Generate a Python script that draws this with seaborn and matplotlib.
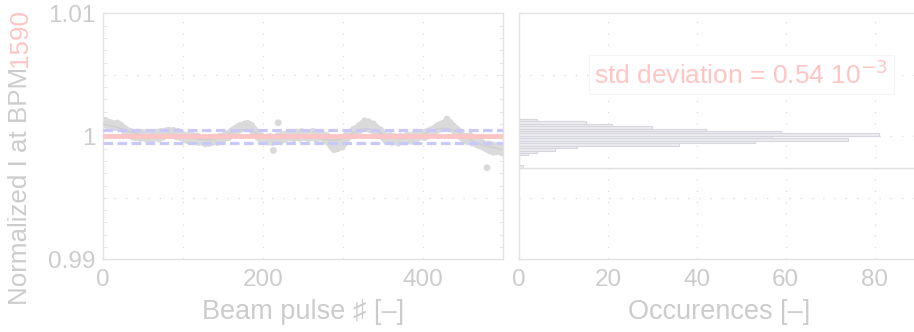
"""
ビームパルスごとの規格化電流 (BPM1590) と、そのヒストグラムを並べて描く
"""
import numpy as np
import pandas as pd
import seaborn as sns
import matplotlib.pyplot as plt
from matplotlib.ticker import MultipleLocator

# 規格化電流の 1 からのずれ (単位: 1e-5)、パルス 0〜499
pulse_dev = [
    110, 125, 95, 130, 105, 88, 118, 100, 92, 112, 85, 98, 76, 104, 90, 70, 95, 82, 108, 74, 88, 66, 92, 80, 60,
    72, 55, 40, 62, 35, 48, 20, 38, 15, 42, 10, 28, -5, 30, 18, -12, 25, 5, 35, -8, 12, 22, -18, 8, 30,
    -10, 15, 28, -20, 5, 18, -25, 10, 32, -5, 20, -30, 12, 0, 25, -15, 8, 35, -2, 18, -22, 10, 40, 2, 15,
    -8, 30, 22, 45, 10, 38, 25, 50, 15, 42, 28, 5, 35, 48, 20, 12, 30, -5, 25, 40, 8, 18, -12, 22, 5,
    -15, 10, -28, 5, -20, -35, 0, -18, 12, -40, -10, -25, 8, -32, -5, -45, -15, -22, 3, -38, -50, -12, -28, -8, -42,
    -30, -55, -20, -62, -35, -48, -15, -58, -25, -40, -10, -52, -30, -18, -45, -5, -35, -22, -50, -12, -28, 0, -40, -15, -25,
    -10, 5, -20, 15, -5, 20, 8, -12, 30, 12, 40, 25, 50, 18, 45, 62, 35, 70, 55, 80, 48, 65, 90, 58, 75,
    85, 68, 100, 78, 92, 60, 105, 82, 70, 95, 55, 88, 40, 65, 30, 50, 15, 35, -5, 20, -15, 8, -25, 5, -20,
    -35, -10, -42, -18, -5, -30, -48, -15, -25, 0, -38, -20, -52, -115, -28, -8, -40, -22, 5, 110, -30, -12, -45, 10, -18,
    -5, 15, -25, 8, -12, 20, -2, 28, 5, -15, 18, -8, 30, 10, -20, 22, 0, 35, -10, 12, 25, -18, 5, 38, 15,
    -5, 20, 8, -12, 30, 0, 18, -20, 10, 25, -8, 15, 40, 5, -15, 22, 12, -25, 8, 32, -2, 18, -10, 28, 2,
    -20, 10, -30, -5, -40, 5, -35, -55, -15, -62, -80, -45, -95, -70, -110, -58, -85, -40, -102, -65, -30, -75, -50, -20, -88,
    -45, -10, -60, 5, -25, 12, -15, 25, 0, 35, 10, 42, 20, 55, 30, 48, 65, 38, 72, 58, 85, 45, 95, 68, 80,
    110, 75, 125, 90, 62, 105, 80, 118, 55, 98, 70, 88, 45, 102, 65, 35, 78, 50, 25, 60, 40, 15, 52, 30, 5,
    -10, 20, -25, 5, -38, -15, -5, -42, -20, 8, -30, -50, -12, -35, 0, -22, -45, -8, -28, -55, -18, -35, 2, -25, -40,
    -15, -30, -5, -48, -20, 10, -35, -12, -25, 5, -40, -18, -2, -30, 15, -10, -25, 8, -15, 20, 0, -8, 25, 12, 30,
    5, 22, -10, 35, 15, 0, 28, 45, 12, 38, 20, 55, 30, 48, 65, 40, 75, 58, 85, 50, 92, 70, 62, 100, 80,
    88, 108, 72, 95, 118, 140, 82, 100, 65, 112, 78, 90, 55, 85, 45, 70, 35, 60, 22, 48, 10, 30, -5, 18, -15,
    5, -25, -10, -35, 0, -20, -45, -12, -30, 8, -40, -22, -55, -15, -48, -28, -62, -35, -70, -50, -25, -78, -42, -60, -85,
    -55, -90, -68, -100, -75, -255, -110, -62, -95, -120, -80, -105, -70, -130, -88, -115, -98, -75, -125, -92, -108, -82, -118, -100, -135,
]

# 平均値と標準偏差 (図中の表示値)
mean_level = 1.0
std_dev = 0.54e-3

# ヒストグラム: 範囲と各ビンの度数 (下から上へ、20 ビン)
hist_lo = 0.99745
hist_hi = 1.00142
hist_counts = [1, 0, 0, 0, 0, 2, 4, 8, 13, 36, 53, 74, 57, 81, 59, 42, 30, 21, 15, 4]

# 目盛り
y_ticks = [0.99, 1.0, 1.01]
y_ticklabels = ["0.99", "1", "1.01"]
pulse_ticks = [0, 200, 400]
count_ticks = [0, 20, 40, 60, 80]
grid_y = [0.995, 1.0, 1.005]
grid_pulse = [100, 200, 300, 400]
grid_count = [20, 40, 60, 80]

GRAY_TXT = "#cccccc"
PINK = "#ffc4c4"
BLUE = "#c8c8fa"
SPINE = "#e2e2e2"
GRID = "#dcdcdc"

sns.set_style("white")
plt.rcParams["font.family"] = ["Liberation Sans", "DejaVu Sans"]

df = pd.DataFrame({"pulse": np.arange(len(pulse_dev)), "value": 1 + np.array(pulse_dev) * 1e-5})
df["smooth"] = df["value"].rolling(41, center=True, min_periods=1).mean()

fig = plt.figure(figsize=(9.14, 3.32), dpi=100)
ax1 = fig.add_axes([103 / 914, 72.7 / 332, 400 / 914, 246 / 332])
ax2 = fig.add_axes([519 / 914, 72.7 / 332, 400 / 914, 246 / 332])

for ax in (ax1, ax2):
    for s in ax.spines.values():
        s.set_color(SPINE)
        s.set_linewidth(1.0)
    ax.set_ylim(0.99, 1.01)
    for g in grid_y:
        ax.axhline(g, color=GRID, lw=0.9, ls=(0, (1, 8)), zorder=0)
    ax.tick_params(which="both", direction="in", colors=SPINE, labelcolor=GRAY_TXT,
                   labelsize=17.5)
    ax.tick_params(axis="x", pad=7)
    ax.tick_params(axis="y", pad=5.5)
    ax.tick_params(which="major", length=0)
    ax.tick_params(which="minor", length=3)

# 左: パルスごとの値
for g in grid_pulse:
    ax1.axvline(g, color=GRID, lw=0.9, ls=(0, (1, 8)), zorder=0)
sns.scatterplot(data=df, x="pulse", y="value", ax=ax1, color="#dadada", s=24,
                edgecolor="none", zorder=2)
sns.lineplot(data=df, x="pulse", y="smooth", ax=ax1, color="#cfcfcf", lw=1.0, zorder=3)
ax1.axhline(mean_level, color=PINK, lw=3.5, zorder=4)
ax1.axhline(mean_level + std_dev, color=BLUE, lw=2.3, ls=(0, (3, 1.4)), zorder=5)
ax1.axhline(mean_level - std_dev, color=BLUE, lw=2.3, ls=(0, (3, 1.4)), zorder=5)
ax1.set_xlim(0, 500)
ax1.set_xticks(pulse_ticks)
ax1.set_yticks(y_ticks)
ax1.set_yticklabels(y_ticklabels)
ax1.yaxis.set_minor_locator(MultipleLocator(0.001))
ax1.tick_params(which="minor", right=True, left=True)
ax1.set_xlabel("Beam pulse \u266f [\u2013]", color=GRAY_TXT, fontsize=19.5, labelpad=6)
ax1.set_ylabel("")

# 縦軸ラベル (BPM 番号だけピンク)
t1 = fig.text(20 / 914, 27 / 332, "Normalized I at BPM", rotation=90, ha="center",
              va="bottom", color=GRAY_TXT, fontsize=18.7)
fig.canvas.draw()
ax1.annotate("1590", xy=(0.5, 1.0), xycoords=t1, rotation=90, ha="center", va="bottom",
             color=PINK, fontsize=18.7, annotation_clip=False)

# 右: ヒストグラム
for g in grid_count:
    ax2.axvline(g, color=GRID, lw=0.9, ls=(0, (1, 8)), zorder=0)
edges = np.linspace(hist_lo, hist_hi, len(hist_counts) + 1)
hist_df = pd.DataFrame({"value": (edges[:-1] + edges[1:]) / 2, "count": hist_counts})
sns.histplot(data=hist_df, y="value", weights="count", bins=list(edges), ax=ax2,
             color="#ededf1", edgecolor="#d6d6de", linewidth=0.8, alpha=1)
ax2.axhline(hist_lo, color="#e0e0e0", lw=1.0, zorder=1)
ax2.set_xlim(0, 90)
ax2.set_xticks(count_ticks)
ax2.xaxis.set_minor_locator(MultipleLocator(5))
ax2.set_yticks(y_ticks)
ax2.set_yticklabels([])
ax2.set_ylabel("")
ax2.set_xlabel("Occurences [\u2013]", color=GRAY_TXT, fontsize=19.5, labelpad=6)
ax2.text(50, 1.005, r"std deviation = 0.54 10$^{-3}$", color=PINK, fontsize=19,
         ha="center", va="center", zorder=6,
         bbox=dict(boxstyle="square,pad=0.2", fc="white", ec="#f4f4f4", lw=0.8))

fig.savefig("out.png", dpi=100)
